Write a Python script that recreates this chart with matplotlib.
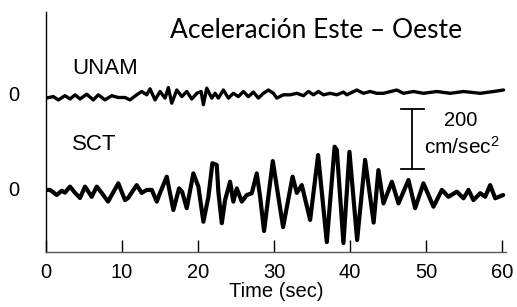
import matplotlib
matplotlib.use("Agg")
import matplotlib.pyplot as plt

plt.rcParams['font.family'] = ['Liberation Sans', 'DejaVu Sans']
plt.rcParams['mathtext.fontset'] = 'custom'
plt.rcParams['mathtext.rm'] = 'Liberation Sans'
plt.rcParams['mathtext.it'] = 'Liberation Sans'

# traces: time (sec), acceleration (cm/sec^2)
unam_t = [0.0, 0.96, 1.62, 2.5, 3.16, 3.82, 4.47, 5.36, 6.22, 6.88, 7.76, 8.64, 9.51, 10.39,
          11.05, 11.93, 12.59, 13.25, 13.68, 14.34, 15.0, 15.66, 16.09, 16.54, 17.2, 17.86,
          18.51, 19.17, 19.83, 20.4, 20.7, 21.14, 21.8, 22.24, 22.67, 23.33, 23.99, 24.64,
          25.3, 25.96, 26.62, 27.28, 27.93, 28.59, 29.25, 29.91, 30.36, 31.22, 32.11, 32.99,
          33.86, 34.51, 35.17, 35.83, 36.49, 37.37, 38.25, 39.12, 39.57, 40.88, 41.75, 42.63,
          43.51, 44.38, 46.14, 47.01, 48.33, 49.64, 51.41, 53.16, 54.91, 57.11, 58.86, 60.17]
unam_a = [-14, -9, -20, -6, -17, -3, -17, -1, -20, -3, -20, -6, -12, -12,
          -20, -3, 8, -3, 17, -20, 8, -14, 21, -31, 13, -9,
          8, -17, 2, 8, -36, 19, -14, 2, -14, 13, -14, 2,
          -9, 8, -9, 6, -14, 2, 13, 2, -14, -3, -3, 2,
          -6, 8, -3, 8, -3, 2, -3, 6, -3, 13, 2, 8,
          2, 2, 13, 2, 8, 2, 8, 2, 8, 2, 8, 13]

sct_t = [0.0, 0.53, 1.41, 2.07, 2.5, 3.16, 3.82, 4.47, 5.13, 6.01, 6.67, 7.33, 8.16, 9.51,
         10.39, 10.79, 11.93, 12.59, 13.25, 13.91, 14.57, 15.0, 15.88, 16.75, 17.5, 17.9,
         18.51, 19.38, 20.04, 20.7, 21.36, 21.88, 22.46, 22.67, 23.12, 23.55, 24.21, 24.64,
         25.09, 25.75, 26.41, 27.07, 27.72, 28.16, 28.68, 29.83, 31.18, 32.43, 32.99, 33.64,
         34.74, 35.79, 36.93, 37.96, 38.25, 39.12, 39.91, 40.92, 41.97, 43.09, 43.72, 44.38,
         45.49, 46.36, 47.67, 48.55, 49.64, 50.96, 52.07, 52.93, 54.04, 54.91, 55.57, 56.22,
         57.11, 57.76, 58.42, 59.08, 60.13]
sct_a = [-3, -3, -20, -6, -12, 8, -13, -30, 8, -26, 8, -13, -42, 19,
         -37, -30, 13, -13, -3, -3, -42, -13, 41, -70, 2, -9,
         -64, 52, 8, -109, -26, 86, 80, -9, -114, -37, 24, -42,
         2, -42, -20, -14, 52, -26, -140, 93, -127, 41, -13, 13,
         -103, 113, -177, 141, 130, -180, 124, -170, 97, -112, 63, -48,
         24, -48, 30, -64, 19, -59, -3, -26, -9, -31, -3, -37,
         -14, -26, 13, -31, -20]

x_ticks = [0, 10, 20, 30, 40, 50, 60]
unam_zero = 527
sct_zero = 210
scale_bar = 200

fig = plt.figure(figsize=(5.17, 3.07), dpi=100)
ax = fig.add_axes([46 / 517, 55 / 307, 460 / 517, 240 / 307])

ax.plot(unam_t, [unam_zero + a for a in unam_a], color='black', lw=2.4,
        solid_joinstyle='round', solid_capstyle='round')
ax.plot(sct_t, [sct_zero + a for a in sct_a], color='black', lw=3.0,
        solid_joinstyle='round', solid_capstyle='round')

# 200 cm/sec^2 scale bar
bx = 48.2
ax.plot([bx, bx], [277, 277 + scale_bar], color='black', lw=1.3)
ax.plot([bx - 1.5, bx + 1.5], [277, 277], color='black', lw=1.3)
ax.plot([bx - 1.5, bx + 1.5], [277 + scale_bar, 277 + scale_bar], color='black', lw=1.3)
ax.text(54.6, 440, '200', ha='center', va='center', fontsize=14.5)
ax.text(54.7, 350, 'cm/sec$^2$', ha='center', va='center', fontsize=15)

ax.text(3.4, 610, 'UNAM', ha='left', va='center', fontsize=16)
ax.text(3.4, 360, 'SCT', ha='left', va='center', fontsize=16)
ax.text(35.5, 737, 'Aceleración Este – Oeste', ha='center', va='center',
        fontsize=19, family=['Lato', 'DejaVu Sans'])

ax.set_xlim(0, 60.5)
ax.set_ylim(0, 800)
ax.set_xticks(x_ticks)
ax.set_xticklabels([str(v) for v in x_ticks], fontsize=14.5)
ax.set_yticks([sct_zero, unam_zero])
ax.set_yticklabels(['0', '0'], fontsize=14.5)
ax.tick_params(axis='x', direction='in', length=8.5, width=1.0, pad=8)
ax.tick_params(axis='y', length=0, pad=19)
ax.set_xlabel('Time (sec)', fontsize=14.5, labelpad=0)

for s in ['top', 'right']:
    ax.spines[s].set_visible(False)
ax.spines['left'].set_linewidth(1.0)
ax.spines['bottom'].set_linewidth(1.0)
ax.spines['bottom'].set_color('#555555')

fig.savefig('out.png', dpi=100)
